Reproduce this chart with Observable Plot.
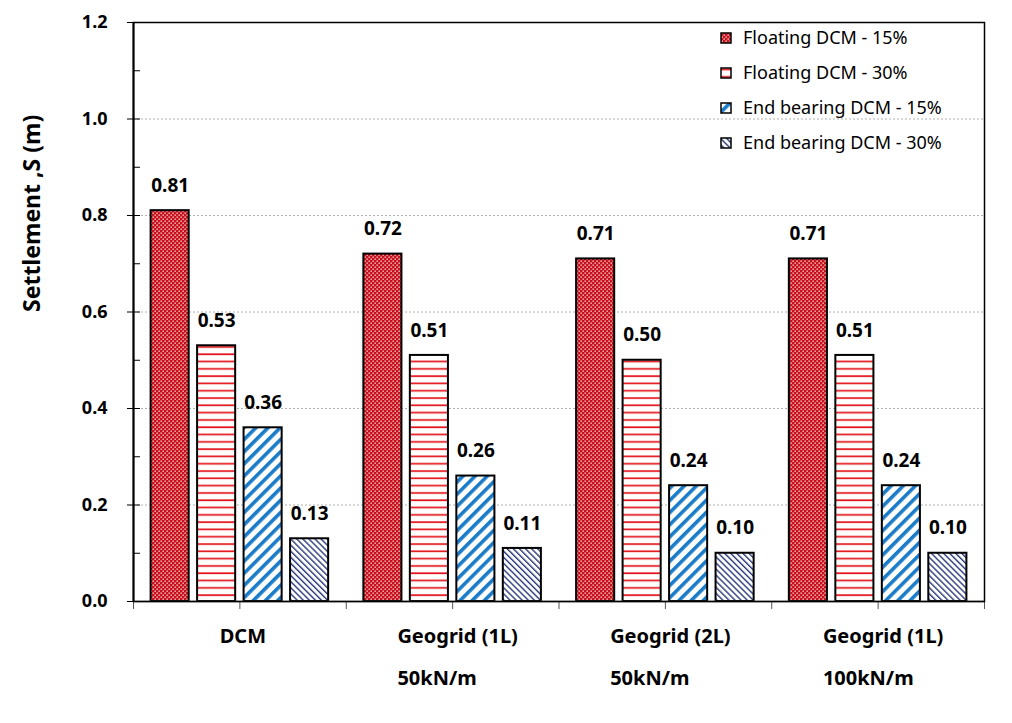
<!DOCTYPE html>
<html><head><meta charset="utf-8">
<script src="https://cdn.jsdelivr.net/npm/d3@7"></script>
<script src="https://cdn.jsdelivr.net/npm/@observablehq/plot@0.6"></script>
<style>
body{margin:0;background:#fff;font-family:"Noto Sans",sans-serif}
#chart{position:relative;width:1012px;height:723px}
</style>
</head><body><div id="chart"></div>
<script>
// ---- data ----
const groupsLine1 = ["DCM", "Geogrid (1L)", "Geogrid (2L)", "Geogrid (1L)"];
const groupsLine2 = ["", "50kN/m", "50kN/m", "100kN/m"];
const series = ["Floating DCM - 15%", "Floating DCM - 30%", "End bearing DCM - 15%", "End bearing DCM - 30%"];
const floating15 = [0.81, 0.72, 0.71, 0.71];
const floating30 = [0.53, 0.51, 0.50, 0.51];
const endBearing15 = [0.36, 0.26, 0.24, 0.24];
const endBearing30 = [0.13, 0.11, 0.10, 0.10];
const yTicks = [0, 0.2, 0.4, 0.6, 0.8, 1.0, 1.2];
const yGrid = [0.2, 0.4, 0.6, 0.8, 1.0];
const yMinor = [0.1, 0.2, 0.3, 0.4, 0.5, 0.6, 0.7, 0.8, 0.9, 1.0, 1.1];

const seriesValues = [floating15, floating30, endBearing15, endBearing30];
const patIds = ["pF15", "pF30", "pE15", "pE30"];

// layout in group units
const step = 0.2185, halfW = 0.0895;
const rows = [];
seriesValues.forEach((vals, si) => vals.forEach((v, gi) => {
  const c = gi + 0.5 + (si - 1.5) * step;
  rows.push({gi, si, value: v, c, x1: c - halfW, x2: c + halfW});
}));

const LABEL_FS = 20;
const ctx = document.createElement("canvas").getContext("2d");
ctx.font = `bold ${LABEL_FS}px 'Noto Sans'`;

const labelMarks = groupsLine1.map((l1, gi) => {
  const two = groupsLine2[gi] !== "";
  const w = ctx.measureText(l1).width;
  return Plot.text([gi], {
    x: d => d + 0.5,
    text: d => two ? l1 + "\n" + groupsLine2[gi] : l1,
    frameAnchor: "bottom",
    textAnchor: two ? "start" : "middle",
    dx: two ? -w / 2 + 5 : 3,
    dy: two ? 49 : 28,
    lineAnchor: "middle",
    lineHeight: 42 / LABEL_FS,
    fontSize: LABEL_FS,
    fontWeight: "bold",
    fill: "black"
  });
});

const plot = Plot.plot({
  width: 1012,
  height: 723,
  marginLeft: 133,
  marginTop: 22,
  marginRight: 28,
  marginBottom: 122,
  style: {fontFamily: "'Noto Sans', sans-serif", background: "white", color: "black"},
  x: {domain: [0, 4], axis: null},
  y: {domain: [0, 1.2], axis: null},
  marks: [
    Plot.ruleY(yGrid, {stroke: "#b0b0b0", strokeDasharray: "2,2", strokeWidth: 1}),
    ...seriesValues.map((vals, si) => Plot.rectY(rows.filter(r => r.si === si), {
      x1: "x1", x2: "x2", y1: 0, y2: "value",
      fill: `url(#${patIds[si]})`, stroke: "black", strokeWidth: 2
    })),
    Plot.text(rows, {x: "c", y: "value", text: d => d.value.toFixed(2), dy: -25,
      fontSize: 19, fontWeight: "bold", fill: "black"}),
    Plot.axisY({ticks: yTicks, tickFormat: d3.format(".1f"), tickSize: 6, tickPadding: 20,
      fontSize: 18, fontWeight: "bold", label: null}),
    Plot.axisY({ticks: yMinor, tickFormat: () => "", tickSize: -7, label: null}),
    Plot.axisX({ticks: [0, 0.5, 1, 1.5, 2, 2.5, 3, 3.5, 4], tickFormat: () => "", tickSize: 8, label: null, stroke: "#555"}),
    Plot.ruleY([0], {stroke: "#555", strokeWidth: 1.3}),
    Plot.frame({stroke: "black", strokeWidth: 1.5}),
    Plot.ruleX([0], {stroke: "black", strokeWidth: 2}),
    Plot.text(["Settlement ,S (m)"], {frameAnchor: "left", rotate: -90, dx: -101,
      fontSize: 23, fontWeight: "bold", fill: "black"}),
    ...labelMarks
  ]
});

// patterns
const svg = d3.select(plot);
const defs = svg.insert("defs", ":first-child");
// Floating 15%: red with white dots
const p0 = defs.append("pattern").attr("id", "pF15").attr("patternUnits", "userSpaceOnUse")
  .attr("width", 4).attr("height", 4);
p0.append("rect").attr("width", 4).attr("height", 4).attr("fill", "#c8101c");
p0.append("rect").attr("x", 0.5).attr("y", 0.5).attr("width", 1.3).attr("height", 1.3).attr("fill", "#ffe6e6");
p0.append("rect").attr("x", 2.5).attr("y", 2.5).attr("width", 1.3).attr("height", 1.3).attr("fill", "#ffe6e6");
// Floating 30%: horizontal red lines
const p1 = defs.append("pattern").attr("id", "pF30").attr("patternUnits", "userSpaceOnUse")
  .attr("width", 8).attr("height", 7.3);
p1.append("rect").attr("width", 8).attr("height", 7.3).attr("fill", "white");
p1.append("rect").attr("y", 3).attr("width", 8).attr("height", 1.7).attr("fill", "#e3141b");
// End bearing 15%: wide blue "/" stripes
const p2 = defs.append("pattern").attr("id", "pE15").attr("patternUnits", "userSpaceOnUse")
  .attr("width", 8.6).attr("height", 8.6).attr("patternTransform", "rotate(45)");
p2.append("rect").attr("width", 8.6).attr("height", 8.6).attr("fill", "white");
p2.append("rect").attr("width", 3.6).attr("height", 8.6).attr("fill", "#1a7cc8");
// End bearing 30%: thin navy "\" lines
const p3 = defs.append("pattern").attr("id", "pE30").attr("patternUnits", "userSpaceOnUse")
  .attr("width", 4.3).attr("height", 4.3).attr("patternTransform", "rotate(-45)");
p3.append("rect").attr("width", 4.3).attr("height", 4.3).attr("fill", "white");
p3.append("rect").attr("width", 1.4).attr("height", 4.3).attr("fill", "#2a3a78");

// legend
const lg = svg.append("g").attr("transform", "translate(721,0)")
  .style("text-anchor", "start").style("font-family", "'Noto Sans', sans-serif").style("font-size", "18px");
series.forEach((s, i) => {
  const y = 38 + i * 35;
  lg.append("rect").attr("x", 0).attr("y", y - 5).attr("width", 10).attr("height", 10)
    .attr("fill", `url(#${patIds[i]})`).attr("stroke", "black").attr("stroke-width", 1.5);
  lg.append("text").attr("x", 22).attr("y", y).attr("dy", "0.35em")
    .style("text-anchor", "start").style("font-size", "18px").attr("fill", "black").text(s);
});

document.getElementById("chart").appendChild(plot);
</script></body></html>
